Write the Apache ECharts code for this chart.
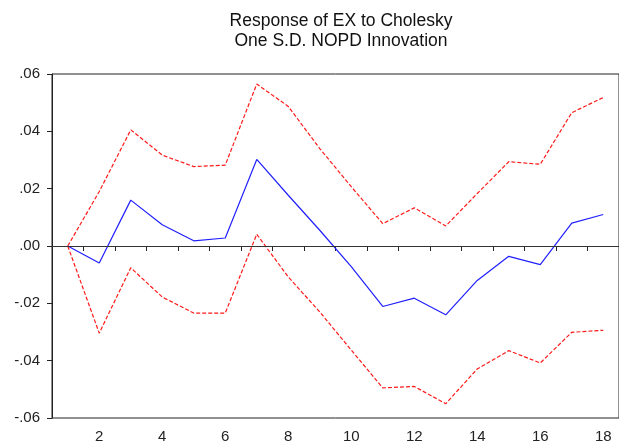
<!DOCTYPE html>
<html>
<head>
<meta charset="utf-8">
<script src="https://cdn.jsdelivr.net/npm/echarts@6/dist/echarts.min.js"></script>
<style>
html,body{margin:0;padding:0;background:#fff;}
#chart{width:619px;height:448px;}
</style>
</head>
<body>
<div id="chart"></div>
<script>
var periods = ['1','2','3','4','5','6','7','8','9','10','11','12','13','14','15','16','17','18'];
var response = [0, -0.0059, 0.0160, 0.0074, 0.0018, 0.0028, 0.0302, 0.0177, 0.0055, -0.0072, -0.0211, -0.0182, -0.0240, -0.0120, -0.0036, -0.0065, 0.0080, 0.0110];
var upperBand = [0, 0.0190, 0.0405, 0.0317, 0.0277, 0.0282, 0.0565, 0.0487, 0.0340, 0.0207, 0.0078, 0.0133, 0.0070, 0.0183, 0.0294, 0.0285, 0.0465, 0.0518];
var lowerBand = [0, -0.0304, -0.0076, -0.0178, -0.0234, -0.0234, 0.0041, -0.0108, -0.0230, -0.0363, -0.0495, -0.0490, -0.0550, -0.0429, -0.0365, -0.0408, -0.0301, -0.0294];
var yTicks = {min: -0.06, max: 0.06, step: 0.02};

var chart = echarts.init(document.getElementById('chart'), null, {renderer: 'canvas'});
var font = "'Liberation Sans', Arial, sans-serif";
chart.setOption({
  animation: false,
  backgroundColor: '#ffffff',
  title: {
    text: 'Response of EX to Cholesky\nOne S.D. NOPD Innovation',
    left: 336,
    textAlign: 'center',
    top: 6,
    textStyle: {fontFamily: font, fontSize: 17.5, fontWeight: 'normal', color: '#111', lineHeight: 20}
  },
  grid: {left: 52, top: 74, width: 569, bottom: 30, show: true, borderColor: '#222', borderWidth: 1, backgroundColor: 'transparent'},
  xAxis: {
    type: 'category',
    data: periods,
    boundaryGap: true,
    axisLine: {lineStyle: {color: '#222', width: 1}},
    axisTick: {show: true, interval: 0, length: 5, lineStyle: {color: '#222'}},
    axisLabel: {
      interval: function (index) { return index % 2 === 1; },
      fontFamily: font, fontSize: 15, color: '#222', margin: 11
    },
    splitLine: {show: false}
  },
  yAxis: {
    type: 'value',
    min: yTicks.min,
    max: yTicks.max,
    interval: yTicks.step,
    axisLine: {show: true, lineStyle: {color: '#222', width: 1}},
    axisTick: {show: true, length: 5, lineStyle: {color: '#222'}},
    axisLabel: {
      fontFamily: font, fontSize: 15, color: '#222', margin: 12,
      formatter: function (v) {
        var s = (Math.round(v * 100) / 100).toFixed(2);
        return s.replace('0.', '.');
      }
    },
    splitLine: {show: false}
  },
  series: [
    {
      name: 'upper', type: 'line', data: upperBand, symbol: 'none', silent: true,
      lineStyle: {color: '#ff1a1a', width: 1.2, type: [4, 2]}
    },
    {
      name: 'lower', type: 'line', data: lowerBand, symbol: 'none', silent: true,
      lineStyle: {color: '#ff1a1a', width: 1.2, type: [4, 2]}
    },
    {
      name: 'response', type: 'line', data: response, symbol: 'none', silent: true,
      lineStyle: {color: '#2020ff', width: 1.2},
      markLine: {
        silent: true, symbol: 'none', label: {show: false},
        lineStyle: {color: '#333', width: 1, type: 'solid'},
        data: [{yAxis: 0}]
      }
    }
  ]
});
</script>
</body>
</html>
